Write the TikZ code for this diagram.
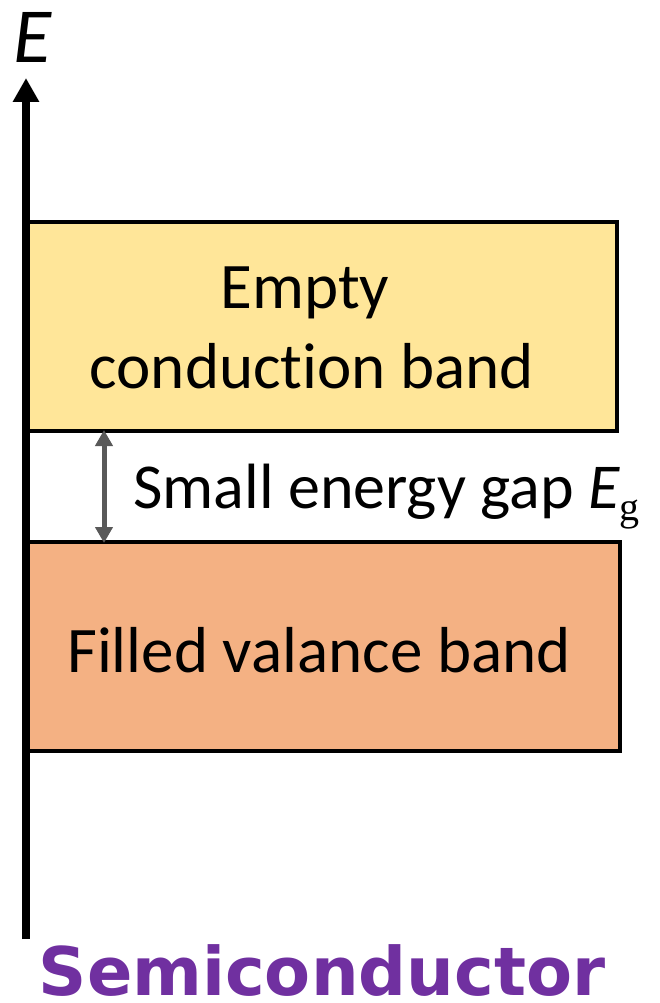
\documentclass[tikz,border=0pt]{standalone}
\usepackage{fontspec}
\setmainfont{Carlito}[Ligatures=NoCommon,RawFeature={-calt;-clig}]
\newfontfamily\calfont{Carlito}[Ligatures=NoCommon,RawFeature={-calt;-clig}]
\newfontfamily\serfont{Liberation Serif}
\newfontfamily\semifont{DejaVu Sans}
\usetikzlibrary{arrows.meta}
\definecolor{cbyellow}{HTML}{FFE699}
\definecolor{vborange}{HTML}{F4B183}
\definecolor{gaygray}{HTML}{595959}
\definecolor{semipurple}{HTML}{7030A0}
\tikzset{
  bandbox/.style={draw=black, line width=4pt},
  bandtext/.style={inner sep=0pt, anchor=base, font=\calfont\fontsize{65}{78}\selectfont},
  axisline/.style={line width=8pt, -{Triangle[length=24pt,width=25pt]}},
  gaparrow/.style={draw=gaygray, line width=5pt, {Triangle[length=16pt,width=17pt]}-{Triangle[length=16pt,width=17pt]}, shorten <=-1pt, shorten >=-1pt},
}
\begin{document}
\begin{tikzpicture}[x=1pt,y=-1pt]
\useasboundingbox (0,0) rectangle (659,1003);
% bands
\path[bandbox, fill=cbyellow] (26,222) rectangle (617,431);
\path[bandbox, fill=vborange] (26,542) rectangle (620,751);
\coordinate (cbbot) at (104,431);
\coordinate (vbtop) at (104,542);
% axis
\coordinate (axbot) at (26,939);
\coordinate (axtop) at (26,78);
\draw[axisline] (axbot) -- (axtop);
\node[inner sep=0pt, anchor=base, font=\calfont\itshape\fontsize{78}{78}\selectfont] (elabel) at (33,63) {E};
% band texts
\node[bandtext] (empty) at (305,308) {Empty};
\node[bandtext] (cond) at (312,388) {conduct\kern0pt ion band};
\node[bandtext] (filled) at (319,672) {Filled valance band};
% gap
\draw[gaparrow] (cbbot) -- (vbtop);
\node[inner sep=0pt, anchor=base west, font=\calfont\fontsize{64}{64}\selectfont] (gaptext) at (133,508)
  {Small energy gap {\itshape E}\raisebox{-0.2em}{\serfont\fontsize{40}{40}\selectfont g}};
% title
\node[inner sep=0pt, anchor=base, text=semipurple, font=\semifont\bfseries\fontsize{67}{67}\selectfont] (semi) at (322,995) {Semiconductor};
\end{tikzpicture}
\end{document}
